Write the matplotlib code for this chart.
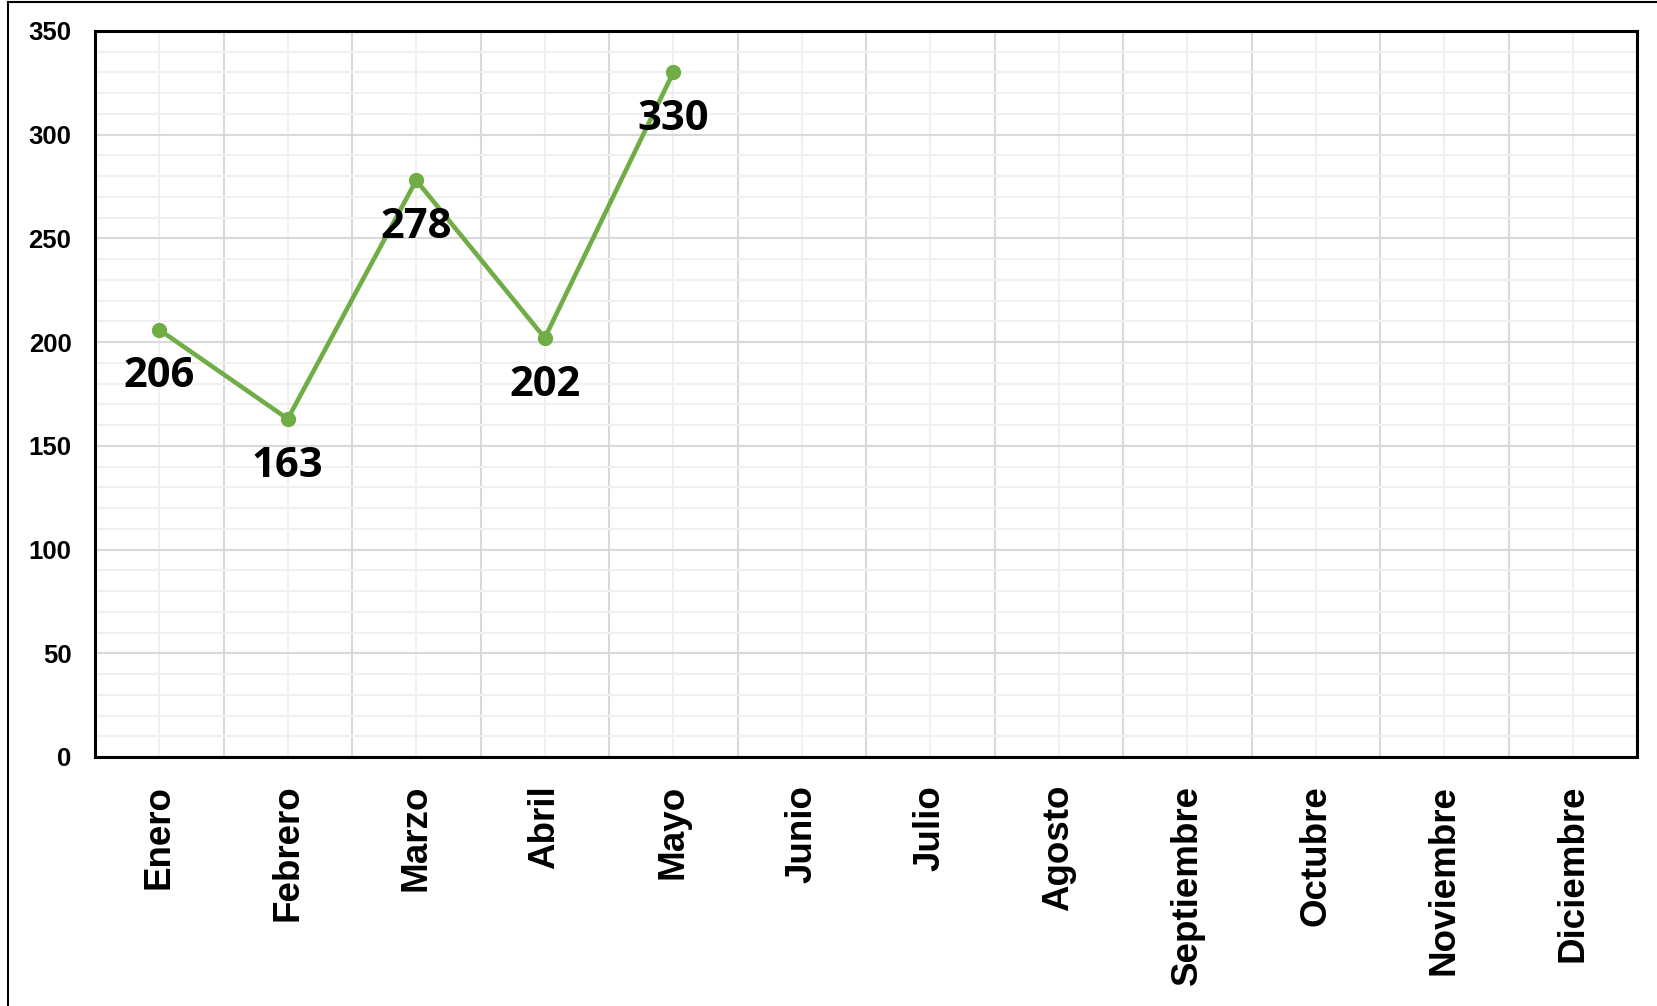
import matplotlib
matplotlib.use('Agg')
import matplotlib.pyplot as plt
from matplotlib.lines import Line2D
import numpy as np

meses = ['Enero', 'Febrero', 'Marzo', 'Abril', 'Mayo', 'Junio', 'Julio',
         'Agosto', 'Septiembre', 'Octubre', 'Noviembre', 'Diciembre']
valores = [206, 163, 278, 202, 330]
y_ticks = [0, 50, 100, 150, 200, 250, 300, 350]

verde = '#70AD47'

if __name__ == '__main__':
    fig = plt.figure(figsize=(16.57, 10.06), dpi=100)
    ax = fig.add_axes([95 / 1657, 1 - 757 / 1006, 1542 / 1657, 726 / 1006])

    x = np.arange(len(meses))
    ax.set_xlim(-0.5, len(meses) - 0.5)
    ax.set_ylim(0, 350)

    ax.set_xticks(x)
    ax.set_xticks(np.arange(len(meses) + 1) - 0.5, minor=True)
    ax.set_xticklabels(meses, rotation=90, fontsize=26.5, fontweight='bold',
                       family='Liberation Sans', va='top')
    ax.set_yticks(y_ticks)
    ax.set_yticks(np.arange(0, 351, 10), minor=True)
    ax.set_yticklabels([str(v) for v in y_ticks], fontsize=18.5, fontweight='bold',
                       family='Liberation Sans')
    ax.tick_params(which='both', length=0)
    ax.tick_params(axis='x', pad=20)
    ax.tick_params(axis='y', pad=17)

    # rejilla: principales oscuras, secundarias claras
    ax.grid(axis='x', which='minor', color='#d9d9d9', linewidth=1.5)
    ax.grid(axis='x', which='major', color='#f0f0f0', linewidth=1.5)
    ax.grid(axis='y', which='major', color='#d9d9d9', linewidth=1.5)
    ax.grid(axis='y', which='minor', color='#f0f0f0', linewidth=1.5)
    ax.set_axisbelow(True)

    for s in ax.spines.values():
        s.set_linewidth(2.2)
        s.set_color('black')

    xs = x[:len(valores)]
    ax.plot(xs, valores, color=verde, linewidth=3.3, marker='o', markersize=10,
            zorder=3, clip_on=False)

    for xi, v in zip(xs, valores):
        ax.annotate(str(v), (xi, v), xytext=(0, -34), textcoords='offset points',
                    ha='center', va='center', fontsize=30, fontweight='bold',
                    family='Open Sans', zorder=4)

    # borde exterior del gráfico
    fig.add_artist(Line2D([7.5 / 1657, 1], [1 - 2 / 1006, 1 - 2 / 1006],
                          color='black', linewidth=1.5))
    fig.add_artist(Line2D([7.5 / 1657, 7.5 / 1657], [0, 1 - 2 / 1006],
                          color='black', linewidth=1.5))

    fig.savefig('out.png', dpi=100)
